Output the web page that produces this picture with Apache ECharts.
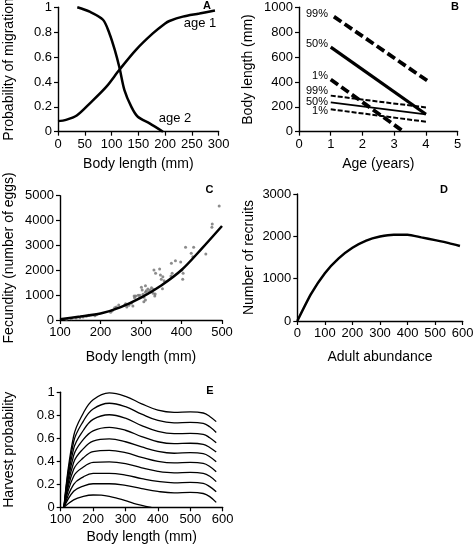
<!DOCTYPE html>
<html>
<head>
<meta charset="utf-8">
<script src="https://cdn.jsdelivr.net/npm/echarts@6/dist/echarts.min.js"></script>
<style>
html,body{margin:0;padding:0;background:#fff;}
#c{width:474px;height:546px;}
</style>
</head>
<body>
<div id="c"></div>
<script>
// ---------- Panel A : probability of migration ----------
var aAge1X = [0, 15, 35, 60, 90, 115, 146, 177, 200, 208, 233, 264, 293];
var aAge1Y = [0.085, 0.095, 0.13, 0.23, 0.36, 0.5, 0.66, 0.79, 0.87, 0.89, 0.925, 0.95, 0.975];
var aAge2X = [36, 59, 84, 96, 106, 115, 124, 137, 149, 171, 196];
var aAge2Y = [1.0, 0.965, 0.9, 0.79, 0.657, 0.51, 0.335, 0.2, 0.12, 0.067, 0.0];
// ---------- Panel B : body length by age ----------
var bHeavy99 = [[1.1, 925], [4.1, 400]];
var bHeavy50 = [[1, 680], [4, 140]];
var bHeavy1 = [[1, 420], [3.3, 0]];
var bThin99 = [[1, 290], [4, 195]];
var bThin50 = [[1, 235], [4, 140]];
var bThin1 = [[1, 180], [4, 80]];
var bLabels = ["99%", "50%", "1%", "99%", "50%", "1%"];
// ---------- Panel C : fecundity ----------
var cCurveX = [100, 150, 200, 250, 300, 350, 400, 450, 500];
var cCurveY = [30, 140, 260, 520, 900, 1390, 2010, 2870, 3780];
var cPointsX = [116, 128, 140, 149, 157, 165, 171, 186, 190, 225, 229, 235, 239, 245, 260, 262, 265, 270, 280, 283, 287, 293, 297, 301, 303, 305, 307, 311, 311, 313, 317, 319, 323, 326, 331, 334, 335, 332, 336, 346, 348, 350, 354, 357, 353, 374, 377, 375, 385, 398, 401, 404, 403, 410, 424, 428, 430, 460, 475, 476, 493, 297, 311, 307, 284, 276, 330];
var cPointsY = [27, 54, 80, 94, 121, 148, 188, 174, 215, 308, 375, 496, 523, 603, 603, 657, 523, 590, 563, 965, 965, 992, 992, 1314, 1207, 1033, 912, 1381, 1113, 1180, 1247, 1140, 1207, 1301, 1234, 965, 1046, 2012, 1877, 2052, 1810, 1636, 1743, 1582, 1261, 1770, 1877, 2280, 2387, 2333, 2012, 1877, 1636, 2923, 2682, 2548, 2923, 2655, 3728, 3862, 4586, 898, 805, 737, 898, 670, 1073];
// ---------- Panel D : recruits ----------
var dX = [0, 50, 100, 150, 200, 250, 300, 350, 400, 450, 500, 550, 590];
var dY = [0, 640, 1130, 1480, 1730, 1900, 1995, 2040, 2040, 1975, 1910, 1840, 1770];
// ---------- Panel E : harvest probability ----------
var eX = [110, 140, 170, 200, 250, 300, 350, 400, 450, 500, 540, 560, 580];
var eY10 = [0, 0.62, 0.82, 0.935, 0.995, 0.965, 0.9, 0.845, 0.826, 0.83, 0.82, 0.79, 0.745];
var eY9 = [0, 0.57, 0.75, 0.855, 0.905, 0.875, 0.81, 0.755, 0.735, 0.739, 0.73, 0.70, 0.65];
var eY8 = [0, 0.51, 0.67, 0.765, 0.805, 0.775, 0.71, 0.66, 0.64, 0.643, 0.635, 0.605, 0.562];
var eY7 = [0, 0.45, 0.59, 0.665, 0.695, 0.67, 0.615, 0.57, 0.553, 0.557, 0.548, 0.52, 0.481];
var eY6 = [0, 0.39, 0.51, 0.575, 0.595, 0.57, 0.525, 0.486, 0.47, 0.475, 0.466, 0.44, 0.397];
var eY5 = [0, 0.33, 0.43, 0.485, 0.495, 0.475, 0.435, 0.40, 0.386, 0.391, 0.382, 0.355, 0.31];
var eY4 = [0, 0.27, 0.35, 0.39, 0.395, 0.38, 0.343, 0.313, 0.30, 0.304, 0.295, 0.27, 0.223];
var eY3 = [0, 0.2, 0.265, 0.295, 0.295, 0.28, 0.25, 0.225, 0.213, 0.217, 0.208, 0.18, 0.136];
var eY2 = [0, 0.14, 0.185, 0.205, 0.205, 0.19, 0.162, 0.138, 0.126, 0.13, 0.12, 0.093, 0.043];
var eX1 = [110, 140, 170, 200, 225, 250, 275, 300, 325, 350, 370, 380];
var eY1 = [0, 0.065, 0.095, 0.107, 0.105, 0.095, 0.078, 0.058, 0.035, 0.017, 0.004, 0];

var FONT = "'Liberation Sans', Arial, sans-serif";
function zip(xs, ys) { return xs.map(function (x, i) { return [x, ys[i]]; }); }

var axisLine = { show: true, lineStyle: { color: '#000', width: 1.4 } };
var axisTick = { show: true, length: 4, lineStyle: { color: '#000', width: 1.2 } };
var axisLabel = { color: '#000', fontSize: 13, fontFamily: FONT, margin: 6,
  formatter: function (v) { return String(Math.round(v * 1000) / 1000); } };
var nameStyle = { color: '#000', fontSize: 14, fontFamily: FONT };

function ax(grid, min, max, interval, name, gap) {
  return { type: 'value', gridIndex: grid, min: min, max: max, interval: interval,
    name: name, nameLocation: 'middle', nameGap: gap, nameTextStyle: nameStyle,
    axisLine: axisLine, axisTick: axisTick, axisLabel: axisLabel, splitLine: { show: false } };
}
function line(grid, data, width, type, smooth) {
  return { type: 'line', xAxisIndex: grid, yAxisIndex: grid, data: data, showSymbol: false,
    symbol: 'none', smooth: smooth || false, silent: true, animation: false,
    lineStyle: { color: '#000', width: width, type: type || 'solid', cap: 'butt' } };
}

var series = [
  line(0, zip(aAge1X, aAge1Y), 2.5, 'solid', 0.3),
  line(0, zip(aAge2X, aAge2Y), 2.5, 'solid', 0.3),
  line(1, bHeavy99, 3.8, [9, 4]),
  line(1, bHeavy50, 3.2, 'solid'),
  line(1, bHeavy1, 3.8, [9, 4]),
  line(1, bThin99, 2, [5, 2]),
  line(1, bThin50, 1.8, 'solid'),
  line(1, bThin1, 2, [5, 2]),
  { type: 'scatter', xAxisIndex: 2, yAxisIndex: 2, data: zip(cPointsX, cPointsY), symbol: 'circle',
    symbolSize: 3, itemStyle: { color: '#6f6f6f' }, animation: false, silent: true },
  line(2, zip(cCurveX, cCurveY), 2.5, 'solid', 0.3),
  line(3, zip(dX, dY), 2.5, 'solid', 0.2)
];
[eY10, eY9, eY8, eY7, eY6, eY5, eY4, eY3, eY2].forEach(function (ys) {
  series.push(line(4, zip(eX, ys), 1.3, 'solid', 0.4));
});
series.push(line(4, zip(eX1, eY1), 1.3, 'solid', 0.4));

function txt(x, y, s, size, bold, align) {
  return { type: 'text', x: x, y: y, silent: true,
    style: { text: s, fill: '#000', font: (bold ? 'bold ' : '') + size + 'px ' + FONT,
      textAlign: align || 'center', textVerticalAlign: 'middle' } };
}
var bLabelY = [14, 44, 76, 91, 101.5, 111];
var graphics = [
  txt(207, 6, 'A', 11, true), txt(455, 7, 'B', 11, true), txt(209.5, 190, 'C', 11, true),
  txt(444, 190, 'D', 11, true), txt(210, 391, 'E', 11, true),
  txt(200, 23, 'age 1', 13), txt(175, 118, 'age 2', 13)
];
bLabels.forEach(function (s, i) { graphics.push(txt(328, bLabelY[i], s, 11, false, 'right')); });

var option = {
  backgroundColor: '#fff',
  animation: false,
  grid: [
    { left: 58, top: 7.3, width: 160.7, height: 124.4, outerBoundsMode: 'none' },
    { left: 299, top: 7.3, width: 158.7, height: 124.4, outerBoundsMode: 'none' },
    { left: 60, top: 195.7, width: 162, height: 124.3, outerBoundsMode: 'none' },
    { left: 297.3, top: 194, width: 165.4, height: 127, outerBoundsMode: 'none' },
    { left: 60.7, top: 392.3, width: 162, height: 115, outerBoundsMode: 'none' }
  ],
  xAxis: [
    ax(0, 0, 300, 50, 'Body length (mm)', 25),
    ax(1, 0, 5, 1, 'Age (years)', 25),
    ax(2, 100, 500, 100, 'Body length (mm)', 30),
    ax(3, 0, 600, 100, 'Adult abundance', 29),
    ax(4, 100, 600, 100, 'Body length (mm)', 23)
  ],
  yAxis: [
    ax(0, 0, 1, 0.2, 'Probability of migration', 42),
    ax(1, 0, 1000, 200, 'Body length (mm)', 44),
    ax(2, 0, 5000, 1000, 'Fecundity (number of eggs)', 44),
    ax(3, 0, 3000, 1000, 'Number of recruits', 41),
    ax(4, 0, 1, 0.2, 'Harvest probability', 45)
  ],
  series: series,
  graphic: graphics
};
var chart = echarts.init(document.getElementById('c'), null, { renderer: 'canvas' });
chart.setOption(option);
</script>
</body>
</html>
